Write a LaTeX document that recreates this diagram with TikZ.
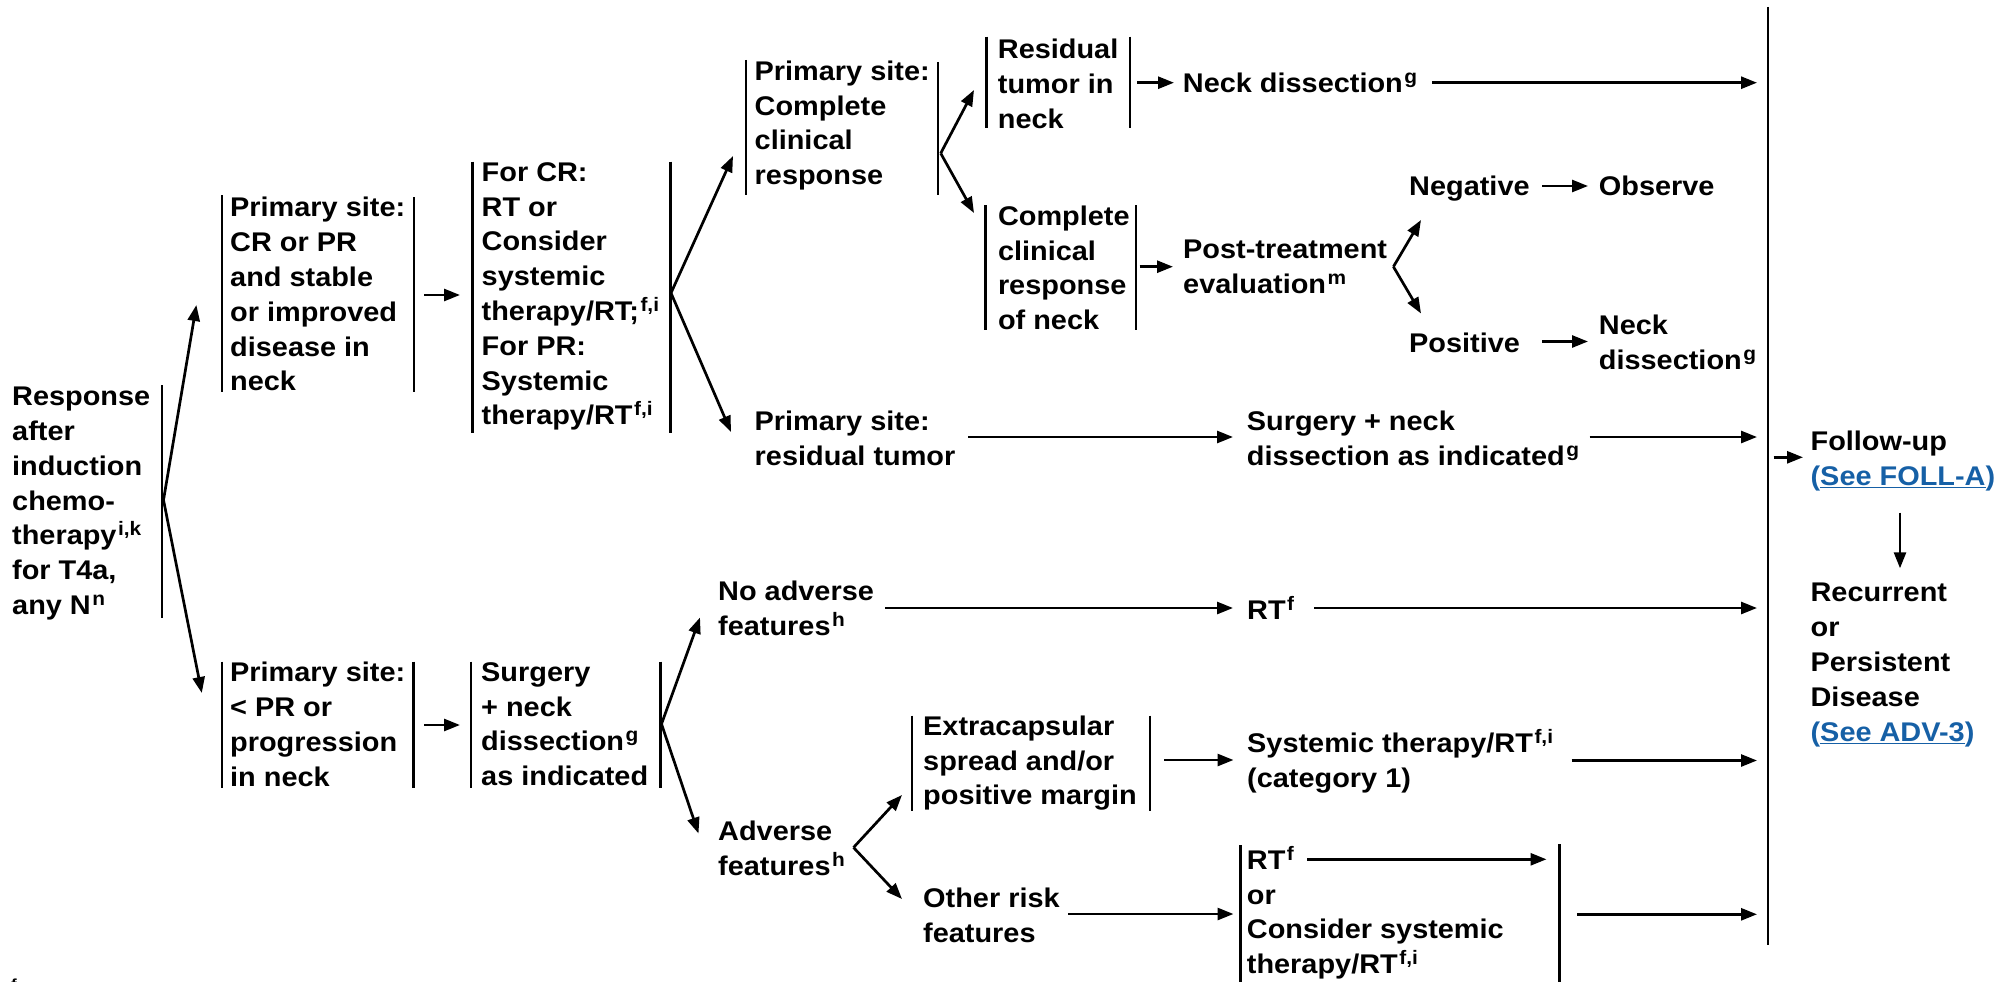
\documentclass[tikz,border=0pt]{standalone}
\usepackage{fontspec}
\setmainfont{Liberation Sans}[FakeStretch=1.07]
\usetikzlibrary{arrows.meta}
\definecolor{linkblue}{RGB}{22,96,166}
\newcommand\sups[1]{\kern1.5pt\raisebox{9pt}[0pt][0pt]{\fontsize{19.5}{19.5}\selectfont #1}}
\newcommand\lnk[1]{\textcolor{linkblue}{(\underline{#1})}}
\begin{document}
\begin{tikzpicture}[x=1pt,y=-1pt,
  txt/.style={inner sep=0pt,anchor=north west,align=left,font=\bfseries\fontsize{27}{34.8}\selectfont},
  bar/.style={line width=2.7pt},
  arr/.style={line width=2.7pt,-{Triangle[length=16pt,width=12pt]}}]
\useasboundingbox (0,0) rectangle (2011,982);
% ---------- text nodes ----------
\node[txt] (resp) at (12,387) {Response\\after\\induction\\chemo-\\therapy\sups{i,k}\\for T4a,\\any N\sups{n}};
\node[txt] (b1) at (230,197.2) {Primary site:\\CR or PR\\and stable\\or improved\\disease in\\neck};
\node[txt] (b2) at (481.5,162.2) {For CR:\\RT or\\Consider\\systemic\\therapy/RT;\sups{f,i}\\For PR:\\Systemic\\therapy/RT\sups{f,i}};
\node[txt] (c1) at (754.5,60.5) {Primary site:\\Complete\\clinical\\response};
\node[txt] (d1) at (997.7,38.8) {Residual\\tumor in\\neck};
\node[txt] (nd1) at (1182.7,73.2) {Neck dissection\sups{g}};
\node[txt] (d2) at (997.8,205.5) {Complete\\clinical\\response\\of neck};
\node[txt] (pte) at (1183,239.5) {Post-treatment\\evaluation\sups{m}};
\node[txt] (neg) at (1409,176) {Negative};
\node[txt] (obs) at (1598.7,176) {Observe};
\node[txt] (pos) at (1409,332.5) {Positive};
\node[txt] (nd2) at (1598.7,314.5) {Neck\\dissection\sups{g}};
\node[txt] (c2) at (754.5,411) {Primary site:\\residual tumor};
\node[txt] (snd) at (1246.7,410.5) {Surgery + neck\\dissection as indicated\sups{g}};
\node[txt] (fu) at (1810.4,430.5) {Follow-up\\\lnk{See FOLL-A}};
\node[txt] (rec) at (1810.4,583.2) {Recurrent\\or\\Persistent\\Disease\\\lnk{See ADV-3}};
\node[txt] (b3) at (230,662.2) {Primary site:\\< PR or\\progression\\in neck};
\node[txt] (b4) at (481,662.2) {Surgery\\+ neck\\dissection\sups{g}\\as indicated};
\node[txt] (noadv) at (718,581) {No adverse\\features\sups{h}};
\node[txt] (rt1) at (1247,600.5) {RT\sups{f}};
\node[txt] (adv) at (718,820.5) {Adverse\\features\sups{h}};
\node[txt] (e1) at (923,715.5) {Extracapsular\\spread and/or\\positive margin};
\node[txt] (sys) at (1247,732.5) {Systemic therapy/RT\sups{f,i}\\(category 1)};
\node[txt] (oth) at (923,887.5) {Other risk\\features};
\node[txt] (e2) at (1246.7,850.5) {RT\sups{f}\\or\\Consider systemic\\therapy/RT\sups{f,i}};
\node[inner sep=0pt,anchor=base west,font=\bfseries\fontsize{16}{16}\selectfont] (fn) at (11,990) {f};
% ---------- bars ----------
\draw[bar] (162,385) -- (162,618);
\draw[bar] (222,195) -- (222,392);   \draw[bar] (414,197) -- (414,392);
\draw[bar] (472.7,161.7) -- (472.7,433); \draw[bar] (670.7,161.7) -- (670.7,433);
\draw[bar] (746,60) -- (746,195);    \draw[bar] (938,62) -- (938,195);
\draw[bar] (986.7,36.7) -- (986.7,128.3); \draw[bar] (1130,36.7) -- (1130,128.3);
\draw[bar] (985.7,205) -- (985.7,330); \draw[bar] (1136,205) -- (1136,330);
\draw[bar] (222,661.7) -- (222,788.3); \draw[bar] (413.8,661.7) -- (413.8,788.3);
\draw[bar] (471,661.7) -- (471,788.3); \draw[bar] (660.7,661.7) -- (660.7,788.3);
\draw[bar] (912,715.5) -- (912,811);  \draw[bar] (1150,715.5) -- (1150,811);
\draw[bar] (1240.2,845) -- (1240.2,982); \draw[bar] (1559.7,844) -- (1559.7,982);
\draw[bar] (1768,7) -- (1768,945);
% ---------- connector points ----------
\coordinate (fR) at (163.5,500);
\coordinate (tB1) at (196.4,305);
\coordinate (tB3) at (201.8,693);
\coordinate (b1o) at (424,295);   \coordinate (b2i) at (460,295);
\coordinate (fB2) at (671,293);
\coordinate (tC1) at (733,156);   \coordinate (tC2) at (731,432);
\coordinate (fC1) at (940.7,153.3);
\coordinate (tD1) at (974,90);    \coordinate (tD2) at (974,213);
\coordinate (d1o) at (1137,82.7); \coordinate (nd1i) at (1174,82.7);
\coordinate (nd1o) at (1432,82.7); \coordinate (L1) at (1757,82.7);
\coordinate (d2o) at (1139.7,266.7); \coordinate (ptei) at (1173,266.7);
\coordinate (fP) at (1393.4,266.7);
\coordinate (tNeg) at (1421,220); \coordinate (tPos) at (1421,313.5);
\coordinate (nego) at (1542,186); \coordinate (obsi) at (1588,186);
\coordinate (poso) at (1542,341.5); \coordinate (nd2i) at (1588,341.5);
\coordinate (c2o) at (968,437);   \coordinate (sndi) at (1233,437);
\coordinate (sndo) at (1589.5,437); \coordinate (L2) at (1757,437);
\coordinate (Lo) at (1773.7,457.3); \coordinate (fui) at (1803,457.3);
\coordinate (fuo) at (1900,512.7); \coordinate (reci) at (1900,568.3);
\coordinate (b3o) at (424,725);   \coordinate (b4i) at (460,725);
\coordinate (fB4) at (661.5,724);
\coordinate (tNo) at (700,617.5); \coordinate (tAdv) at (698.5,833.5);
\coordinate (noo) at (885,608);   \coordinate (rt1i) at (1233,608);
\coordinate (rt1o) at (1314,608); \coordinate (L3) at (1757,608);
\coordinate (fA) at (853.5,847.5);
\coordinate (tE1) at (902,795);   \coordinate (tOth) at (902,899);
\coordinate (e1o) at (1164,760);  \coordinate (sysi) at (1233.5,760);
\coordinate (syso) at (1571.5,760.5); \coordinate (L4) at (1757,760.5);
\coordinate (otho) at (1068,914); \coordinate (e2i) at (1233.5,914);
\coordinate (rt2o) at (1307,859.3); \coordinate (rt2e) at (1546.5,859.3);
\coordinate (e2o) at (1577,914.3); \coordinate (L5) at (1757,914.3);
% ---------- connectors ----------
\draw[arr] (fR) -- (tB1);
\draw[arr] (fR) -- (tB3);
\draw[arr] (b1o) -- (b2i);
\draw[arr] (fB2) -- (tC1);
\draw[arr] (fB2) -- (tC2);
\draw[arr] (fC1) -- (tD1);
\draw[arr] (fC1) -- (tD2);
\draw[arr] (d1o) -- (nd1i);
\draw[arr] (nd1o) -- (L1);
\draw[arr] (d2o) -- (ptei);
\draw[arr] (fP) -- (tNeg);
\draw[arr] (fP) -- (tPos);
\draw[arr] (nego) -- (obsi);
\draw[arr] (poso) -- (nd2i);
\draw[arr] (c2o) -- (sndi);
\draw[arr] (sndo) -- (L2);
\draw[arr] (Lo) -- (fui);
\draw[arr] (fuo) -- (reci);
\draw[arr] (b3o) -- (b4i);
\draw[arr] (fB4) -- (tNo);
\draw[arr] (fB4) -- (tAdv);
\draw[arr] (noo) -- (rt1i);
\draw[arr] (rt1o) -- (L3);
\draw[arr] (fA) -- (tE1);
\draw[arr] (fA) -- (tOth);
\draw[arr] (e1o) -- (sysi);
\draw[arr] (syso) -- (L4);
\draw[arr] (otho) -- (e2i);
\draw[arr] (rt2o) -- (rt2e);
\draw[arr] (e2o) -- (L5);
\end{tikzpicture}
\end{document}
